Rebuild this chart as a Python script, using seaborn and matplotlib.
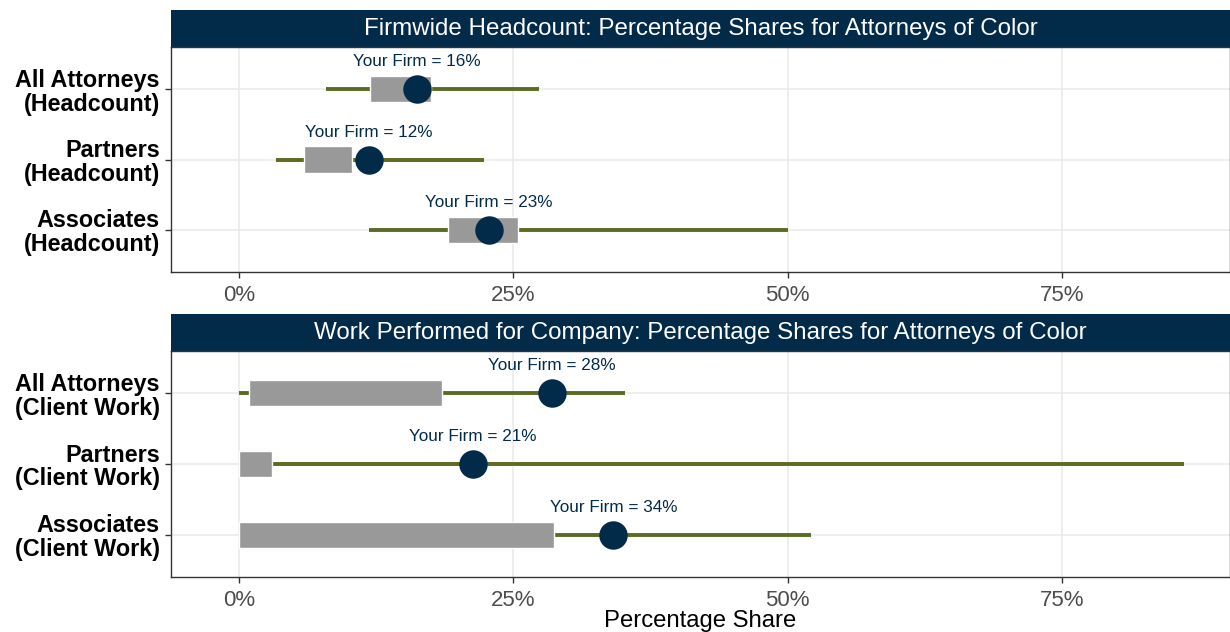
import pandas as pd
import matplotlib
matplotlib.use('Agg')
import matplotlib.pyplot as plt
import seaborn as sns

# Werte (in Prozent)
top_title = 'Firmwide Headcount: Percentage Shares for Attorneys of Color'
top_cats = ['All Attorneys\n(Headcount)', 'Partners\n(Headcount)', 'Associates\n(Headcount)']
top_min = [7.9, 3.4, 11.8]
top_max = [27.3, 22.3, 50.0]
top_q1 = [11.9, 5.9, 19.0]
top_q3 = [17.5, 10.3, 25.4]
top_firm = [16.2, 11.8, 22.8]
top_firm_lbl = [16, 12, 23]

bot_title = 'Work Performed for Company: Percentage Shares for Attorneys of Color'
bot_cats = ['All Attorneys\n(Client Work)', 'Partners\n(Client Work)', 'Associates\n(Client Work)']
bot_min = [0.0, 0.0, 0.0]
bot_max = [35.2, 86.1, 52.1]
bot_q1 = [0.9, 0.0, 0.0]
bot_q3 = [18.5, 3.0, 28.7]
bot_firm = [28.5, 21.3, 34.1]
bot_firm_lbl = [28, 21, 34]

x_ticks = [0, 25, 50, 75]

NAVY = '#022b4a'
OLIVE = '#5a6b23'
GRAY = '#999999'

sns.set_theme(style='white')
plt.rcParams['font.family'] = ['Liberation Sans', 'DejaVu Sans']

W, H = 1230, 632
fig = plt.figure(figsize=(W / 100, H / 100), dpi=100)


def px_axes(left, top, right, bottom):
    return fig.add_axes([left / W, 1 - bottom / H, (right - left) / W, (bottom - top) / H])


def draw_panel(ax, strip, title, cats, mins, maxs, q1, q3, firm, lbl, show_xlabel):
    df = pd.DataFrame({'cat': cats, 'min': mins, 'max': maxs, 'q1': q1, 'q3': q3,
                       'firm': firm, 'lbl': lbl})
    df['pos'] = range(len(df))

    ax.hlines(df['pos'], df['min'], df['max'], color=OLIVE, lw=2.8, zorder=2)
    ax.barh(df['pos'], df['q3'] - df['q1'], left=df['q1'], height=0.37,
            color=GRAY, zorder=3)
    sns.scatterplot(data=df, x='firm', y='pos', ax=ax, s=420, color=NAVY,
                    edgecolor=NAVY, linewidth=0, zorder=4, legend=False)
    for _, r in df.iterrows():
        ax.text(r['firm'], r['pos'] - 0.39, f"Your Firm = {r['lbl']}%",
                ha='center', va='center', fontsize=12.3, color=NAVY, zorder=5)

    ax.set_xlim(-6.2, 90.3)
    ax.set_ylim(len(df) - 0.4, -0.6)
    ax.set_yticks(df['pos'])
    ax.set_yticklabels(df['cat'], fontsize=16.8, fontweight='bold', color='black',
                       linespacing=1.05)
    ax.set_xticks(x_ticks)
    ax.set_xticklabels([f'{t}%' for t in x_ticks], fontsize=16, color='#4d4d4d')
    ax.tick_params(axis='both', length=4, width=1, color='#333333', left=True, bottom=True)
    ax.tick_params(axis='x', pad=5)
    ax.tick_params(axis='y', pad=4)
    ax.grid(True, color='#ebebeb', lw=1.2)
    ax.set_axisbelow(True)
    for s in ax.spines.values():
        s.set_color('#333333')
        s.set_linewidth(1)
    ax.set_ylabel('')
    if show_xlabel:
        ax.set_xlabel('Percentage Share', fontsize=17.2, color='black', labelpad=0)
    else:
        ax.set_xlabel('')

    strip.set_facecolor(NAVY)
    strip.set_xticks([])
    strip.set_yticks([])
    for s in strip.spines.values():
        s.set_visible(False)
    strip.text(0.5, 0.5, title, ha='center', va='center', color='white', fontsize=17.4,
               transform=strip.transAxes)


strip1 = px_axes(171, 10, 1230, 47)
ax1 = px_axes(171, 47, 1230, 272)
strip2 = px_axes(171, 314, 1230, 351)
ax2 = px_axes(171, 351, 1230, 577)

draw_panel(ax1, strip1, top_title, top_cats, top_min, top_max, top_q1, top_q3,
           top_firm, top_firm_lbl, False)
draw_panel(ax2, strip2, bot_title, bot_cats, bot_min, bot_max, bot_q1, bot_q3,
           bot_firm, bot_firm_lbl, True)

fig.savefig('out.png', dpi=100, facecolor='white')
